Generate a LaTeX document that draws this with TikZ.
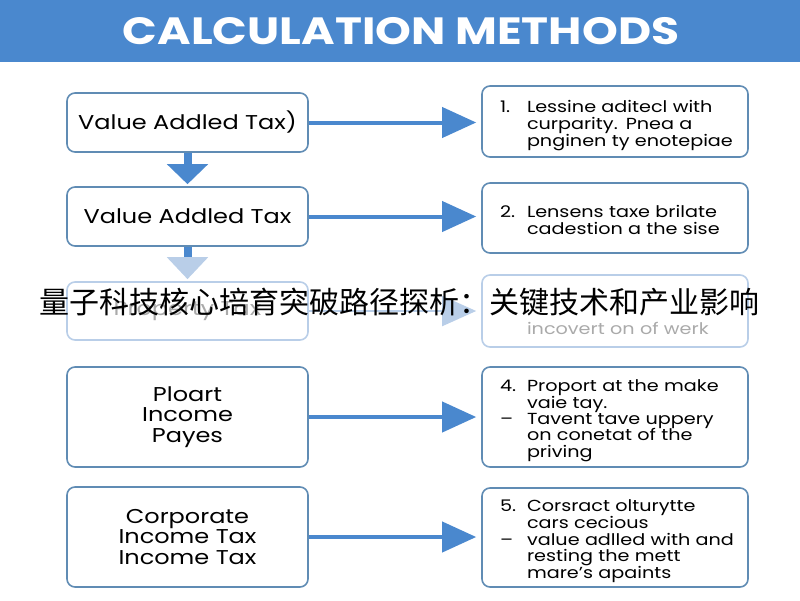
\documentclass[tikz,border=0pt]{standalone}
\usepackage{fontspec}
\setmainfont{Poppins}[FakeStretch=1.2]
\newfontfamily\ktitlefont{Poppins}[FakeStretch=1.2]
\newfontfamily\cjk{Noto Sans CJK SC}
\usetikzlibrary{arrows.meta}
\definecolor{kblue}{RGB}{74,136,206}
\definecolor{kedge}{RGB}{96,140,180}
\definecolor{kpale}{RGB}{185,206,232}
\definecolor{kgrey}{RGB}{170,170,170}
\newcommand\krows[1]{\raisebox{-4pt}[\height][\depth]{\begin{tabular}{@{}p{27pt}@{}l@{}}#1\end{tabular}}}
\begin{document}
\begin{tikzpicture}[x=1pt,y=-1pt,
kbox/.style={draw=kedge,line width=1.6pt,rounded corners=8pt,fill=white},
lbox/.style={kbox,minimum width=241pt,align=center,font=\fontsize{20}{20.5}\selectfont},
rbox/.style={kbox,text width=230pt,inner xsep=18pt,align=left,font=\fontsize{16}{15.6}\selectfont},
karr/.style={kblue,line width=4pt,shorten >=5pt,-{Triangle[length=34pt,width=30pt]}},
darr/.style={kblue,line width=8pt,shorten >=2pt,-{Triangle[length=20pt,width=40pt]}}]
\pgfmathsetmacro{\klx}{187.5}
\pgfmathsetmacro{\krx}{615}
\useasboundingbox(0,0)rectangle(800,600);
\fill[kblue](0,0)rectangle(800,62);
\node[text=white,font=\ktitlefont\bfseries\fontsize{38}{42}\selectfont](title)at(401,31){CALCULATION METHODS};
\foreach \ki/\ky/\kh/\klb in {1/122.5/59/{Value Addled Tax)},2/216.5/59/{Value Addled Tax},4/417/100/{Ploart\\Income\\Payes},5/537/100/{Corporate\\Income Tax\\Income Tax}}{\node[lbox,minimum height=\kh pt](l\ki)at(\klx,\ky){\klb};}
\node[lbox,minimum height=58pt,draw=kpale,text=kgrey](l3)at(\klx,311){Property Tax};
\node[rbox,minimum height=71pt](r1)at(\krx,121.5){\krows{1.&Lessine aditecl with\\&curparity. Pnea a\\&pnginen ty enotepiae}};
\node[rbox,minimum height=70pt](r2)at(\krx,218){\krows{2.&Lensens taxe brilate\\&cadestion a the sise}};
\node[rbox,minimum height=72pt,draw=kpale,text=kgrey](r3)at(\krx,311){\krows{&\mbox{}\\&\mbox{}\\&incovert on of werk}};
\node[rbox,minimum height=100pt](r4)at(\krx,417){\krows{4.&Proport at the make\\&vaie tay.\\--&Tavent tave uppery\\&on conetat of the\\&priving}};
\node[rbox,minimum height=99pt](r5)at(\krx,537.5){\krows{5.&Corsract olturytte\\&cars cecious\\--&value adlled with and\\&resting the mett\\&mare's apaints}};
\foreach \ki in {1,2,4,5}{\draw[karr](l\ki.east)--(l\ki.east-|r\ki.west);}
\draw[karr,kpale,line width=2pt](l3.east)--(l3.east-|r3.west);
\draw[darr](l1)--(l2);
\draw[darr,-{Triangle[length=22pt,width=40pt,color=kpale]}](l2)--(l3);
\node[font=\cjk\fontsize{30}{32}\selectfont](cn)at(399,302){量子科技核心培育突破路径探析：关键技术和产业影响};
\end{tikzpicture}
\end{document}
